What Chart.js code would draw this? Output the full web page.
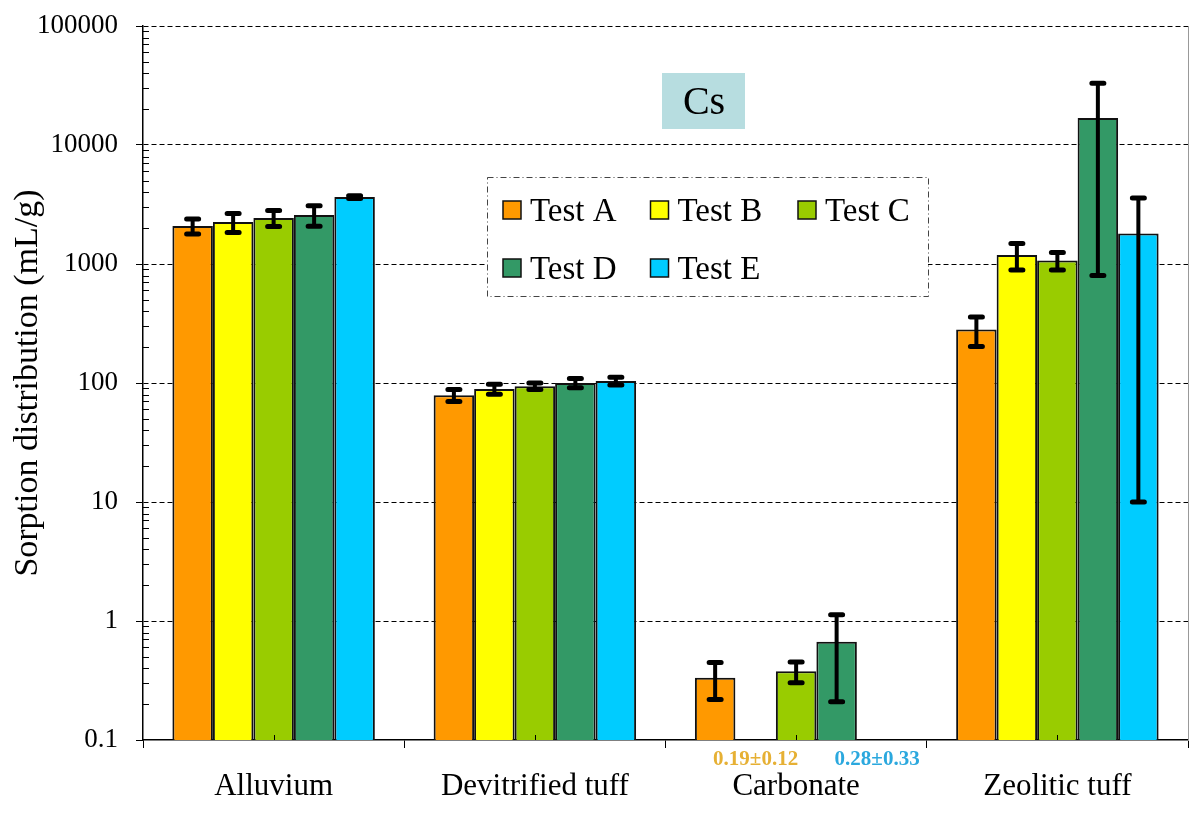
<!DOCTYPE html>
<html>
<head>
<meta charset="utf-8">
<script src="https://cdn.jsdelivr.net/npm/chart.js@4/dist/chart.umd.min.js"></script>
<style>
  body { margin: 0; background: #fff; }
  canvas { display: block; }
</style>
</head>
<body>
<canvas id="kdChart" width="1200" height="813"></canvas>
<script>
// Data (Cs sorption, log scale)
const categories = ["Alluvium", "Devitrified tuff", "Carbonate", "Zeolitic tuff"];
const seriesNames = ["Test A", "Test B", "Test C", "Test D", "Test E"];
const seriesColors = ["#ff9900", "#ffff00", "#99cc00", "#339966", "#00ccff"];

const testA = [2090, 79, 0.334, 281];
const testB = [2250, 89, null, 1190];
const testC = [2440, 94, 0.378, 1070];
const testD = [2580, 100, 0.67, 16900];
const testE = [3650, 104, null, 1800];

const errA = [300, 9, 0.115, 78];
const errB = [410, 8.5, null, 300];
const errC = [370, 6, 0.075, 180];
const errD = [500, 9, 0.46, 16100];
const errE = [100, 8, null, 1790];

const yDecades = [0.1, 1, 10, 100, 1000, 10000, 100000];

// values below the axis minimum, written under the Carbonate group
const noteSeries = [1, 4];
const noteText = ["0.19\u00b10.12", "0.28\u00b10.33"];
const noteColors = ["#e6b034", "#2ba8de"];

const SERIF = "'Liberation Serif', 'Times New Roman', serif";

const values = [testA, testB, testC, testD, testE];
const errors = [errA, errB, errC, errD, errE];

// error bars + small axis ticks
const errorBars = {
    id: "errorBars",
    afterDatasetsDraw(chart) {
        const ctx = chart.ctx;
        const y = chart.scales.y;
        const area = chart.chartArea;
        ctx.save();
        ctx.strokeStyle = "#000";
        chart.data.datasets.forEach((ds, i) => {
            const meta = chart.getDatasetMeta(i);
            ds.errors.forEach((e, j) => {
                const v = ds.data[j];
                if (v == null || e == null) return;
                const x = meta.data[j].x;
                const top = y.getPixelForValue(v + e);
                const bot = y.getPixelForValue(Math.max(v - e, y.min));
                ctx.lineWidth = 4;
                ctx.lineCap = "butt";
                ctx.beginPath();
                ctx.moveTo(x, top);
                ctx.lineTo(x, bot);
                ctx.stroke();
                ctx.lineWidth = 5;
                ctx.lineCap = "round";
                ctx.beginPath();
                ctx.moveTo(x - 6, top);
                ctx.lineTo(x + 6, top);
                ctx.moveTo(x - 6, bot);
                ctx.lineTo(x + 6, bot);
                ctx.stroke();
            });
        });

        // minor log ticks pointing into the plot
        ctx.lineWidth = 1;
        ctx.lineCap = "butt";
        ctx.beginPath();
        for (let d = 0; d < yDecades.length - 1; d++) {
            for (let m = 2; m <= 9; m++) {
                const py = Math.round(y.getPixelForValue(yDecades[d] * m)) + 0.5;
                ctx.moveTo(area.left, py);
                ctx.lineTo(area.left + 6, py);
            }
        }
        // small centre ticks on the category axis
        const x = chart.scales.x;
        categories.forEach((c, j) => {
            const px = Math.round(x.getPixelForValue(j)) + 0.5;
            ctx.moveTo(px, area.bottom);
            ctx.lineTo(px, area.bottom - 5);
        });
        ctx.stroke();

        // notes for values under 0.1
        ctx.font = "bold 21px " + SERIF;
        ctx.textAlign = "center";
        ctx.textBaseline = "middle";
        noteSeries.forEach((s, k) => {
            const px = chart.getDatasetMeta(s).data[2].x;
            ctx.fillStyle = noteColors[k];
            ctx.fillText(noteText[k], px, area.bottom + 20);
        });
        ctx.restore();
    }
};

// "Cs" label box and the dash-dot legend inside the plot
const decorations = {
    id: "decorations",
    afterDraw(chart) {
        const ctx = chart.ctx;
        ctx.save();
        // title box
        ctx.fillStyle = "#b7dde0";
        ctx.fillRect(662, 73, 83, 56);
        ctx.fillStyle = "#000";
        ctx.font = "40px " + SERIF;
        ctx.textAlign = "center";
        ctx.textBaseline = "middle";
        ctx.fillText("Cs", 704, 103);

        // legend
        ctx.fillStyle = "#fff";
        ctx.fillRect(487, 177, 441, 119);
        ctx.strokeStyle = "#444";
        ctx.lineWidth = 1;
        ctx.setLineDash([6, 3, 1, 3]);
        ctx.strokeRect(487.5, 177.5, 441, 119);
        ctx.setLineDash([]);
        ctx.font = "33px " + SERIF;
        ctx.textAlign = "left";
        chart.data.datasets.forEach((ds, i) => {
            const col = i % 3, row = Math.floor(i / 3);
            const sx = 503 + col * 147.5;
            const sy = 210 + row * 58;
            ctx.fillStyle = ds.backgroundColor;
            ctx.fillRect(sx, sy - 9, 18, 18);
            ctx.strokeStyle = "#111";
            ctx.lineWidth = 1.5;
            ctx.strokeRect(sx, sy - 9, 18, 18);
            ctx.fillStyle = "#000";
            ctx.fillText(ds.label, sx + 27, sy + 2);
        });
        ctx.restore();
    }
};

const ctx = document.getElementById("kdChart").getContext("2d");

new Chart(ctx, {
    type: "bar",
    data: {
        labels: categories,
        datasets: seriesNames.map((name, i) => ({
            label: name,
            data: values[i],
            errors: errors[i],
            backgroundColor: seriesColors[i],
            borderColor: "#111",
            borderWidth: 2,
            categoryPercentage: 0.775,
            barPercentage: 1.0
        }))
    },
    options: {
        responsive: false,
        animation: false,
        layout: { padding: { top: 26, right: 0, bottom: 0, left: 0 } },
        plugins: {
            legend: { display: false },
            tooltip: { enabled: false }
        },
        scales: {
            x: {
                grid: {
                    offset: true,
                    drawOnChartArea: false,
                    color: "#000",
                    tickLength: 8
                },
                border: { color: "#000", width: 1.5 },
                ticks: {
                    color: "#000",
                    padding: 20,
                    font: { family: SERIF, size: 31 }
                },
                afterFit: (s) => {
                    s.height = 73;
                    s.paddingLeft = 0;
                    s.paddingRight = 0;
                }
            },
            y: {
                type: "logarithmic",
                min: 0.1,
                max: 100000,
                afterBuildTicks: (s) => {
                    s.ticks = yDecades.map(v => ({ value: v }));
                },
                afterFit: (s) => {
                    s.width = 143;
                    s.paddingTop = 0;
                    s.paddingBottom = 0;
                },
                grid: {
                    color: (c) => (c.tick && c.tick.value === 0.1) ? "rgba(0,0,0,0)" : "#000",
                    tickColor: "#000",
                    lineWidth: 1,
                    tickLength: 7
                },
                border: { color: "#000", width: 1.5, dash: [5, 3] },
                ticks: {
                    color: "#000",
                    padding: 18,
                    autoSkip: false,
                    font: { family: SERIF, size: 27 },
                    callback: (v) => String(v)
                },
                title: {
                    display: true,
                    text: "Sorption distribution (mL/g)",
                    color: "#000",
                    font: { family: SERIF, size: 34 },
                    padding: { top: 8, bottom: 0 }
                }
            },
            yRight: {
                type: "linear",
                position: "right",
                min: 0,
                max: 1,
                grid: { display: false, drawTicks: false },
                ticks: { display: false },
                border: { color: "#999", width: 1 },
                afterFit: (s) => {
                    s.width = 12;
                    s.paddingTop = 0;
                    s.paddingBottom = 0;
                }
            }
        }
    },
    plugins: [errorBars, decorations]
});
</script>
</body>
</html>
